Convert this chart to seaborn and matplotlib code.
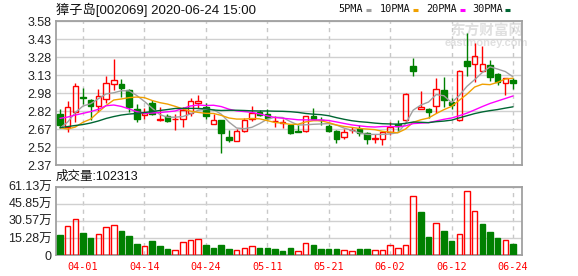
import numpy as np
import pandas as pd
import matplotlib
matplotlib.use("Agg")
import matplotlib.pyplot as plt
from matplotlib.lines import Line2D
import seaborn as sns

# ---------------- data ----------------
stock_name = "獐子岛"
stock_code = "002069"
stamp = "2020-06-24 15:00"

dates = ["03-27", "03-30", "03-31", "04-01", "04-02", "04-03", "04-07", "04-08", "04-09", "04-10",
         "04-13", "04-14", "04-15", "04-16", "04-17", "04-20", "04-21", "04-22", "04-23", "04-24",
         "04-27", "04-28", "04-29", "04-30", "05-06", "05-07", "05-08", "05-11", "05-12", "05-13",
         "05-14", "05-15", "05-18", "05-19", "05-20", "05-21", "05-22", "05-25", "05-26", "05-27",
         "05-28", "05-29", "06-01", "06-02", "06-03", "06-04", "06-05", "06-08", "06-09", "06-10",
         "06-11", "06-12", "06-15", "06-16", "06-17", "06-18", "06-19", "06-22", "06-23", "06-24"]
tick_dates = ["04-01", "04-14", "04-24", "05-11", "05-21", "06-02", "06-12", "06-24"]

opens = [2.798, 2.692, 2.818, 2.941, 2.912, 2.863, 2.922, 3.048, 3.053, 2.998,
         2.838, 2.790, 2.888, 2.752, 2.784, 2.754, 2.754, 2.804, 2.891, 2.855,
         2.712, 2.748, 2.608, 2.572, 2.658, 2.754, 2.815, 2.799, 2.737, 2.726,
         2.706, 2.653, 2.656, 2.782, 2.750, 2.700, 2.658, 2.603, 2.662, 2.670,
         2.641, 2.588, 2.592, 2.651, 2.712, 2.746, 3.202, 2.843, 2.843, 2.866,
         3.004, 2.902, 2.752, 3.244, 3.216, 3.162, 3.210, 3.135, 3.056, 3.084]
highs = [2.838, 2.908, 3.056, 3.014, 2.922, 3.009, 3.118, 3.258, 3.090, 3.006,
         2.880, 2.846, 2.916, 2.855, 2.798, 2.798, 2.855, 2.933, 2.958, 2.888,
         2.798, 2.752, 2.664, 2.672, 2.769, 2.866, 2.832, 2.838, 2.779, 2.754,
         2.712, 2.704, 2.782, 2.852, 2.777, 2.715, 2.664, 2.670, 2.692, 2.706,
         2.650, 2.630, 2.658, 2.734, 2.748, 2.972, 3.273, 2.992, 2.851, 3.098,
         3.107, 2.937, 3.168, 3.482, 3.398, 3.370, 3.252, 3.140, 3.098, 3.098]
lows = [2.692, 2.650, 2.734, 2.883, 2.748, 2.818, 2.893, 3.000, 2.944, 2.818,
        2.734, 2.754, 2.790, 2.740, 2.734, 2.668, 2.692, 2.782, 2.849, 2.754,
        2.712, 2.473, 2.566, 2.572, 2.650, 2.742, 2.782, 2.748, 2.693, 2.683,
        2.630, 2.645, 2.645, 2.746, 2.703, 2.650, 2.557, 2.586, 2.641, 2.614,
        2.546, 2.559, 2.538, 2.622, 2.647, 2.731, 3.122, 2.843, 2.762, 2.809,
        2.860, 2.840, 2.742, 3.122, 3.067, 3.151, 3.080, 3.040, 2.958, 3.011]
closes = [2.706, 2.855, 3.034, 2.933, 2.866, 2.947, 3.056, 3.082, 3.020, 2.860,
          2.754, 2.803, 2.798, 2.756, 2.742, 2.759, 2.832, 2.908, 2.910, 2.782,
          2.746, 2.641, 2.580, 2.658, 2.748, 2.810, 2.794, 2.767, 2.742, 2.731,
          2.639, 2.650, 2.779, 2.759, 2.746, 2.656, 2.591, 2.647, 2.664, 2.641,
          2.591, 2.593, 2.647, 2.687, 2.695, 2.967, 3.160, 2.860, 2.815, 3.009,
          2.916, 2.870, 3.160, 3.202, 3.286, 3.216, 3.112, 3.065, 3.098, 3.062]
ma5 = [2.680, 2.731, 2.811, 2.866, 2.885, 2.927, 2.967, 2.977, 2.994, 2.993,
       2.954, 2.904, 2.847, 2.794, 2.771, 2.772, 2.777, 2.799, 2.830, 2.838,
       2.835, 2.797, 2.731, 2.681, 2.675, 2.687, 2.718, 2.755, 2.772, 2.769,
       2.735, 2.706, 2.708, 2.712, 2.715, 2.718, 2.706, 2.680, 2.661, 2.640,
       2.627, 2.627, 2.627, 2.631, 2.642, 2.717, 2.831, 2.874, 2.899, 2.962,
       2.952, 2.894, 2.954, 3.031, 3.087, 3.147, 3.195, 3.176, 3.155, 3.111]
ma10 = [2.683, 2.672, 2.689, 2.729, 2.756, 2.815, 2.870, 2.916, 2.925, 2.936,
        2.941, 2.936, 2.912, 2.894, 2.882, 2.863, 2.841, 2.823, 2.812, 2.804,
        2.803, 2.787, 2.765, 2.756, 2.756, 2.761, 2.758, 2.743, 2.727, 2.722,
        2.711, 2.712, 2.732, 2.742, 2.742, 2.726, 2.706, 2.694, 2.686, 2.677,
        2.672, 2.667, 2.653, 2.646, 2.641, 2.672, 2.729, 2.750, 2.765, 2.802,
        2.835, 2.863, 2.914, 2.965, 3.025, 3.049, 3.045, 3.065, 3.093, 3.099]
ma20 = [2.762, 2.773, 2.790, 2.804, 2.819, 2.838, 2.868, 2.874, 2.862, 2.841,
        2.818, 2.804, 2.807, 2.811, 2.817, 2.824, 2.845, 2.866, 2.874, 2.870,
        2.872, 2.861, 2.839, 2.825, 2.819, 2.812, 2.799, 2.783, 2.769, 2.763,
        2.757, 2.750, 2.749, 2.749, 2.749, 2.744, 2.732, 2.719, 2.707, 2.699,
        2.692, 2.689, 2.693, 2.694, 2.691, 2.699, 2.718, 2.722, 2.726, 2.740,
        2.754, 2.765, 2.784, 2.806, 2.833, 2.861, 2.887, 2.908, 2.929, 2.950]
ma30 = [2.683, 2.693, 2.702, 2.710, 2.723, 2.740, 2.761, 2.777, 2.790, 2.798,
        2.803, 2.811, 2.819, 2.828, 2.836, 2.845, 2.846, 2.846, 2.845, 2.842,
        2.832, 2.828, 2.830, 2.830, 2.828, 2.825, 2.824, 2.824, 2.822, 2.821,
        2.818, 2.812, 2.803, 2.797, 2.793, 2.784, 2.768, 2.754, 2.742, 2.734,
        2.729, 2.722, 2.717, 2.715, 2.713, 2.720, 2.731, 2.729, 2.726, 2.734,
        2.739, 2.747, 2.766, 2.784, 2.802, 2.816, 2.827, 2.836, 2.848, 2.859]
volumes = [179000, 257000, 319000, 197000, 155000, 185000, 248000, 266000, 215000, 170000,
           98000, 78000, 125000, 81000, 54000, 45000, 113000, 134000, 140000, 90000,
           66000, 90000, 54000, 45000, 60000, 78000, 66000, 66000, 54000, 36000,
           63000, 33000, 104000, 90000, 54000, 54000, 54000, 42000, 33000, 54000,
           54000, 42000, 42000, 87000, 63000, 87000, 525000, 385000, 161000, 283000,
           215000, 125000, 185000, 570000, 394000, 275000, 206000, 152000, 134000, 102313]
price_ticks = ["3.58", "3.43", "3.28", "3.13", "2.98", "2.82", "2.67", "2.52", "2.37"]
vol_ticks = ["61.13万", "45.85万", "30.57万", "15.28万", "0"]
vol_max = 611300
ma_names = ["5PMA", "10PMA", "20PMA", "30PMA"]

# ---------------- style ----------------
sns.set_style("white")
plt.rcParams["font.family"] = ["Liberation Sans", "Noto Sans CJK SC", "DejaVu Sans"]
MONO = ["DejaVu Sans Mono", "Noto Sans CJK SC"]
RED, GREEN = "#ff0000", "#008000"
MA_COLORS = ["#a0a0a0", "#f0a000", "#ff00ff", "#006633"]
SPINE = "#a0a0a0"

W, H = 578, 276
fig = plt.figure(figsize=(W / 100, H / 100), dpi=100)
fig.patch.set_facecolor("white")
L, R = 56, 522
axp = fig.add_axes([L / W, (H - 165) / H, (R - L) / W, (165 - 21) / H])
axv = fig.add_axes([L / W, (H - 255) / H, (R - L) / W, (255 - 186.7) / H])

n = len(dates)
idx = np.arange(n)
o, h, l, c = map(np.array, (opens, highs, lows, closes))
df = pd.DataFrame({"idx": idx, "ma5": ma5, "ma10": ma10, "ma20": ma20, "ma30": ma30,
                   "vol": volumes})

# ---------------- candles ----------------
up = c >= o
col = np.where(up, RED, GREEN)
top = np.maximum(o, c)
bot = np.minimum(o, c)
axp.vlines(idx, top, h, colors=col, linewidth=1, zorder=3)
axp.vlines(idx, l, bot, colors=col, linewidth=1, zorder=3)
body = np.maximum(top - bot, 0.003)
axp.bar(idx[up], body[up], bottom=bot[up], width=0.72, facecolor="none",
        edgecolor=RED, linewidth=1, zorder=4)
axp.bar(idx[~up], body[~up], bottom=bot[~up], width=0.72, facecolor=GREEN,
        edgecolor=GREEN, linewidth=1, zorder=4)

for name, colr in zip(["ma5", "ma10", "ma20", "ma30"], MA_COLORS):
    sns.lineplot(data=df, x="idx", y=name, ax=axp, color=colr, linewidth=1,
                 zorder=5, legend=False)

# ---------------- volume ----------------
prev = np.concatenate([[o[0]], c[:-1]])
vup = c >= prev
vol = np.array(volumes)
axv.bar(idx[vup], vol[vup], width=0.72, facecolor="none", edgecolor=RED, linewidth=1, zorder=3)
axv.bar(idx[~vup], vol[~vup], width=0.72, facecolor=GREEN, edgecolor=GREEN, linewidth=1, zorder=3)

# ---------------- axes cosmetics ----------------
xlim = (-0.52, 60.17)
tick_pos = [dates.index(d) for d in tick_dates]
pmin, pmax = float(price_ticks[-1]), float(price_ticks[0])
for ax in (axp, axv):
    ax.set_xlim(*xlim)
    ax.set_xlabel("")
    ax.set_ylabel("")
    ax.set_xticks(tick_pos)
    ax.grid(False)
    ax.set_axisbelow(True)
    for sp in ax.spines.values():
        sp.set_visible(True)
        sp.set_color(SPINE)
        sp.set_linewidth(1.3)
    ax.tick_params(length=0)
    for xp in tick_pos:
        ax.axvline(xp, color="#c8c8c8", linewidth=1, linestyle=(0, (3, 3)), zorder=1)

axp.set_ylim(pmin, pmax)
pt_pos = np.linspace(pmax, pmin, len(price_ticks))
axp.set_yticks(pt_pos)
axp.set_yticklabels(price_ticks, fontsize=9, color="#222222")
axp.set_xticklabels([])
for yp in pt_pos:
    axp.axhline(yp, color="#d0d0d0", linewidth=1, zorder=1)
axp.tick_params(axis="y", pad=3)

axv.set_ylim(0, vol_max)
vt_pos = np.linspace(vol_max, 0, len(vol_ticks))
axv.set_yticks(vt_pos)
axv.set_yticklabels(vol_ticks, fontsize=9, color="#222222")
for yp in vt_pos:
    axv.axhline(yp, color="#d0d0d0", linewidth=1, zorder=1)
axv.set_xticklabels(tick_dates, fontsize=7.3, color=RED, family=MONO)
axv.tick_params(axis="y", pad=3)
axv.tick_params(axis="x", pad=5)

# ---------------- texts ----------------
def fy(py):
    return 1 - py / H

fig.text(L / W, fy(9.5), f"{stock_name}[{stock_code}] {stamp}", fontsize=9.5,
         ha="left", va="center", color="#111111")
fig.text(L / W, fy(177), f"成交量:{volumes[-1]}", fontsize=9,
         ha="left", va="center", color="#111111")

leg_x = [338, 380, 425.7, 472]
dash_x = [366, 412.7, 460, 505.3]
for name, colr, tx, dx in zip(ma_names, MA_COLORS, leg_x, dash_x):
    fig.text(tx / W, fy(9.5), name, fontsize=7.4, family=MONO, ha="left",
             va="center", color="#111111")
    fig.add_artist(Line2D([dx / W, (dx + 5) / W], [fy(10), fy(10)], color=colr,
                          linewidth=2.2, solid_capstyle="butt"))

# watermark (behind the marks)
axp.text(487 / W, fy(31), "东方财富网", fontsize=10.5, ha="center", va="center",
         color="#e0e0e0", fontweight="bold", family=["Noto Sans CJK SC"],
         transform=fig.transFigure, zorder=0.5)
axp.text(486 / W, fy(43), "eastmoney.com", fontsize=8, ha="center", va="center",
         color="#e0e0e0", fontweight="bold", transform=fig.transFigure, zorder=0.5)

fig.savefig("out.png", dpi=100, facecolor="white")
